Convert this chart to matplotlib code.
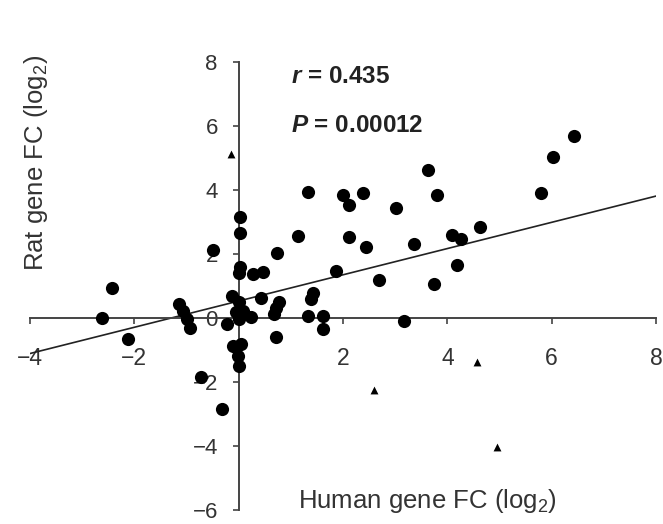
import numpy as np
import matplotlib.pyplot as plt

plt.rcParams['font.family'] = ['Liberation Sans', 'DejaVu Sans']
plt.rcParams['mathtext.fontset'] = 'custom'
plt.rcParams['mathtext.rm'] = 'Liberation Sans'
plt.rcParams['mathtext.it'] = 'Liberation Sans:italic'
plt.rcParams['mathtext.bf'] = 'Liberation Sans:bold'
plt.rcParams['mathtext.bfit'] = 'Liberation Sans:italic:bold'

# Genes shown as filled circles (human log2 FC, rat log2 FC)
human_fc = [-2.42, -2.62, -2.12, -1.15, -1.06, -1.00, -0.94, -0.23, -0.73, -0.31,
            0.02, 0.02, -0.50, 0.02, 0.00, 0.27, 0.46, 0.73, 1.13, 1.33,
            0.42, -0.12, 0.00, -0.06, 0.08, 0.23, 0.00, 0.71, 0.77, 0.71,
            0.67, 1.42, 1.38, 1.33, 1.62, 1.62, -0.10, 0.04, -0.02, 0.00,
            2.00, 2.11, 2.38, 3.02, 3.62, 3.81, 2.12, 2.44, 3.37, 4.08,
            4.27, 4.62, 4.19, 1.87, 2.69, 3.75, 3.17, 6.42, 6.02, 5.79]
rat_fc = [0.93, 0.00, -0.65, 0.43, 0.22, -0.03, -0.30, -0.19, -1.83, -2.85,
          3.16, 2.66, 2.14, 1.58, 1.42, 1.36, 1.45, 2.04, 2.57, 3.94,
          0.62, 0.68, 0.50, 0.19, 0.22, 0.03, -0.03, -0.59, 0.50, 0.30,
          0.12, 0.77, 0.59, 0.06, 0.06, -0.34, -0.87, -0.80, -1.18, -1.49,
          3.84, 3.53, 3.90, 3.44, 4.64, 3.84, 2.54, 2.23, 2.32, 2.60,
          2.48, 2.85, 1.67, 1.46, 1.18, 1.05, -0.09, 5.70, 5.02, 3.90]
# Outlier genes shown as triangles
out_human = [-0.15, 2.60, 4.56, 4.96]
out_rat = [5.14, -2.26, -1.39, -4.02]

# Regression line
fit_slope = 0.41
fit_intercept = 0.53
fit_x = [-4, 8]

fig = plt.figure(figsize=(6.63, 5.24), dpi=100)
ax = fig.add_axes([30 / 663, 1 - 510 / 524, 626 / 663, 448 / 524])

ax.scatter(human_fc, rat_fc, s=90, color='black', zorder=3, linewidths=0)
ax.scatter(out_human, out_rat, s=32, marker='^', color='black', zorder=3, linewidths=0)
fx = np.array(fit_x)
ax.plot(fx, fit_slope * fx + fit_intercept, color='#222222', lw=1.2, zorder=2)

ax.set_xlim(-4, 8)
ax.set_ylim(-6, 8)
ax.spines['left'].set_position(('data', 0))
ax.spines['bottom'].set_position(('data', 0))
ax.spines['right'].set_visible(False)
ax.spines['top'].set_visible(False)
for s in ['left', 'bottom']:
    ax.spines[s].set_linewidth(1.4)
    ax.spines[s].set_color('#444444')

ax.set_xticks([-4, -2, 0, 2, 4, 6, 8])
ax.set_xticklabels(['\u22124', '\u22122', '', '2', '4', '6', '8'])
ax.set_yticks([-6, -4, -2, 0, 2, 4, 6, 8])
ax.set_yticklabels(['\u22126', '\u22124', '\u22122', '0', '2', '4', '6', '8'])
ax.tick_params(axis='x', direction='out', length=4, width=1.2, color='#444444',
               pad=17, labelsize=16.5, labelcolor='#333333')
ax.tick_params(axis='y', direction='out', length=4, width=1.2, color='#444444',
               pad=11, labelsize=16, labelcolor='#333333')
ax.patch.set_visible(False)

ax.text(1.0, 7.55, r'$\mathbfit{r}$ = 0.435', fontsize=17.5, fontweight='bold',
        color='#222222', va='center')
ax.text(1.0, 6.0, r'$\mathbfit{P}$ = 0.00012', fontsize=17.5, fontweight='bold',
        color='#222222', va='center')

fig.text(427 / 663, 1 - 501 / 524, r'Human gene FC (log$_2$)', fontsize=18.5,
         color='#333333', ha='center', va='center')
fig.text(36 / 663, 1 - 163 / 524, r'Rat gene FC (log$_2$)', fontsize=18.5,
         color='#333333', ha='center', va='center', rotation=90)

fig.savefig('out.png', dpi=100)
